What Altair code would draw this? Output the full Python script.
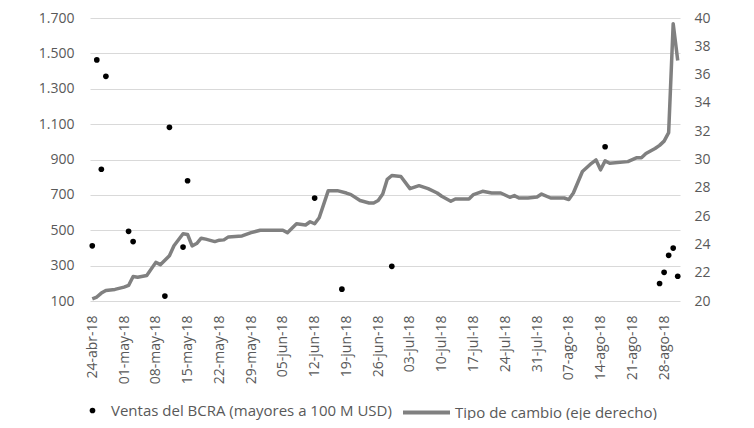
import altair as alt
import pandas as pd

# ---- data ----
line_dates = [
    "2018-04-24", "2018-04-25", "2018-04-26", "2018-04-27", "2018-04-29", "2018-05-01",
    "2018-05-02", "2018-05-03", "2018-05-04", "2018-05-06", "2018-05-08", "2018-05-09",
    "2018-05-11", "2018-05-12", "2018-05-14", "2018-05-15", "2018-05-16", "2018-05-17",
    "2018-05-18", "2018-05-19", "2018-05-21", "2018-05-22", "2018-05-23", "2018-05-24",
    "2018-05-27", "2018-05-29", "2018-05-31", "2018-06-05", "2018-06-06", "2018-06-08",
    "2018-06-10", "2018-06-11", "2018-06-12", "2018-06-13", "2018-06-15", "2018-06-17",
    "2018-06-19", "2018-06-20", "2018-06-22", "2018-06-24", "2018-06-25", "2018-06-26",
    "2018-06-27", "2018-06-28", "2018-06-29", "2018-07-01", "2018-07-03", "2018-07-05",
    "2018-07-07", "2018-07-09", "2018-07-10", "2018-07-12", "2018-07-13", "2018-07-16",
    "2018-07-17", "2018-07-19", "2018-07-21", "2018-07-23", "2018-07-25", "2018-07-26",
    "2018-07-27", "2018-07-29", "2018-07-31", "2018-08-01", "2018-08-03", "2018-08-06",
    "2018-08-07", "2018-08-08", "2018-08-10", "2018-08-12", "2018-08-13", "2018-08-14",
    "2018-08-15", "2018-08-16", "2018-08-20", "2018-08-22", "2018-08-23", "2018-08-24",
    "2018-08-26", "2018-08-27", "2018-08-28", "2018-08-29", "2018-08-30", "2018-08-31",
]
line_values = [
    20.15, 20.28, 20.56, 20.75, 20.82, 20.98,
    21.10, 21.73, 21.68, 21.80, 22.73, 22.57,
    23.20, 23.90, 24.75, 24.70, 23.90, 24.06,
    24.44, 24.37, 24.20, 24.30, 24.32, 24.53,
    24.60, 24.83, 25.00, 25.00, 24.83, 25.46,
    25.37, 25.60, 25.46, 25.88, 27.80, 27.80,
    27.63, 27.52, 27.10, 26.93, 26.93, 27.10,
    27.56, 28.60, 28.87, 28.80, 27.94, 28.15,
    27.94, 27.63, 27.40, 27.05, 27.21, 27.21,
    27.52, 27.75, 27.63, 27.63, 27.33, 27.45,
    27.28, 27.28, 27.35, 27.56, 27.28, 27.28,
    27.17, 27.63, 29.15, 29.73, 29.97, 29.27,
    29.90, 29.73, 29.85, 30.13, 30.13, 30.43,
    30.78, 31.00, 31.30, 31.90, 39.60, 37.00,
]

sale_dates = [
    "2018-04-24", "2018-04-25", "2018-04-26", "2018-04-27", "2018-05-02", "2018-05-03",
    "2018-05-10", "2018-05-11", "2018-05-14", "2018-05-15", "2018-06-12", "2018-06-18",
    "2018-06-29", "2018-08-15", "2018-08-27", "2018-08-28", "2018-08-29", "2018-08-30",
    "2018-08-31",
]
sale_values = [
    412, 1463, 845, 1370, 494, 436,
    128, 1082, 405, 780, 682, 167,
    296, 972, 199, 262, 358, 399,
    240,
]

tick_dates = [
    "2018-04-24", "2018-05-01", "2018-05-08", "2018-05-15", "2018-05-22", "2018-05-29",
    "2018-06-05", "2018-06-12", "2018-06-19", "2018-06-26", "2018-07-03", "2018-07-10",
    "2018-07-17", "2018-07-24", "2018-07-31", "2018-08-07", "2018-08-14", "2018-08-21",
    "2018-08-28",
]
left_ticks = [100, 300, 500, 700, 900, 1100, 1300, 1500, 1700]
right_ticks = [20, 22, 24, 26, 28, 30, 32, 34, 36, 38, 40]

SERIE_VENTAS = "Ventas del BCRA (mayores a 100 M USD)"
SERIE_TC = "Tipo de cambio (eje derecho)"

line_df = pd.DataFrame({"fecha": line_dates, "tc": line_values, "serie": SERIE_TC})
sales_df = pd.DataFrame({"fecha": sale_dates, "ventas": sale_values, "serie": SERIE_VENTAS})


def ms(s):
    return int(pd.Timestamp(s, tz="UTC").timestamp() * 1000)


FONT = "Open Sans"
LABEL = "#595959"
FS = 14
LEG_FS = 15

x_enc = alt.X(
    "fecha:T",
    scale=alt.Scale(type="utc", domain=[ms("2018-04-23 12:00"), ms("2018-08-31 12:00")]),
    axis=alt.Axis(
        values=[ms(d) for d in tick_dates],
        labelAngle=270,
        labelExpr="utcFormat(datum.value, '%d') + '-' + "
                  "['ene','feb','mar','abr','may','jun','jul','ago','sep','oct','nov','dic'][utcmonth(datum.value)]"
                  " + '-' + utcFormat(datum.value, '%y')",
        domain=False, ticks=False, grid=False, title=None,
        labelFont=FONT, labelFontSize=FS, labelColor=LABEL, labelPadding=14,
        labelOverlap=False, labelBound=False, labelFlush=False,
    ),
)

line = alt.Chart(line_df).mark_line(strokeWidth=3.5, strokeJoin="round").encode(
    x=x_enc,
    y=alt.Y(
        "tc:Q",
        scale=alt.Scale(domain=[20, 40], nice=False, zero=False),
        axis=alt.Axis(
            orient="right", values=right_ticks, grid=False, domain=False, ticks=False,
            title=None, labelFont=FONT, labelFontSize=FS, labelColor=LABEL, labelPadding=14,
        ),
    ),
    color=alt.Color(
        "serie:N",
        scale=alt.Scale(domain=[SERIE_TC], range=["#808080"]),
        legend=alt.Legend(
            orient="none", legendX=311, legendY=369, title=None,
            symbolType="stroke", symbolSize=2209, symbolStrokeWidth=4,
            labelFont=FONT, labelFontSize=LEG_FS, labelColor=LABEL, labelOffset=3,
            labelLimit=0,
        ),
    ),
)

points = alt.Chart(sales_df).mark_circle(size=32, opacity=1).encode(
    x=x_enc,
    y=alt.Y(
        "ventas:Q",
        scale=alt.Scale(domain=[100, 1700], nice=False, zero=False),
        axis=alt.Axis(
            orient="left", values=left_ticks, grid=True, gridColor="#d9d9d9", gridWidth=1,
            domain=False, ticks=False, title=None,
            labelExpr="replace(format(datum.value, ','), ',', '.')",
            labelFont=FONT, labelFontSize=FS, labelColor=LABEL, labelPadding=16,
        ),
    ),
    color=alt.Color(
        "serie:N",
        scale=alt.Scale(domain=[SERIE_VENTAS], range=["#000000"]),
        legend=alt.Legend(
            orient="none", legendX=-5, legendY=385, title=None,
            symbolType="circle", symbolSize=32, symbolStrokeWidth=0,
            labelFont=FONT, labelFontSize=LEG_FS, labelColor=LABEL, labelOffset=11,
            labelLimit=0,
        ),
    ),
)

chart = (
    alt.layer(line, points)
    .resolve_scale(y="independent", color="independent")
    .properties(
        width=590, height=283,
        autosize=alt.AutoSizeParams(type="none"),
        padding={"left": 82, "top": 10, "right": 66, "bottom": 119},
        background="white",
    )
    .configure_view(stroke=None)
)

chart.save("out.html", embed_options={"renderer": "svg", "actions": False})
